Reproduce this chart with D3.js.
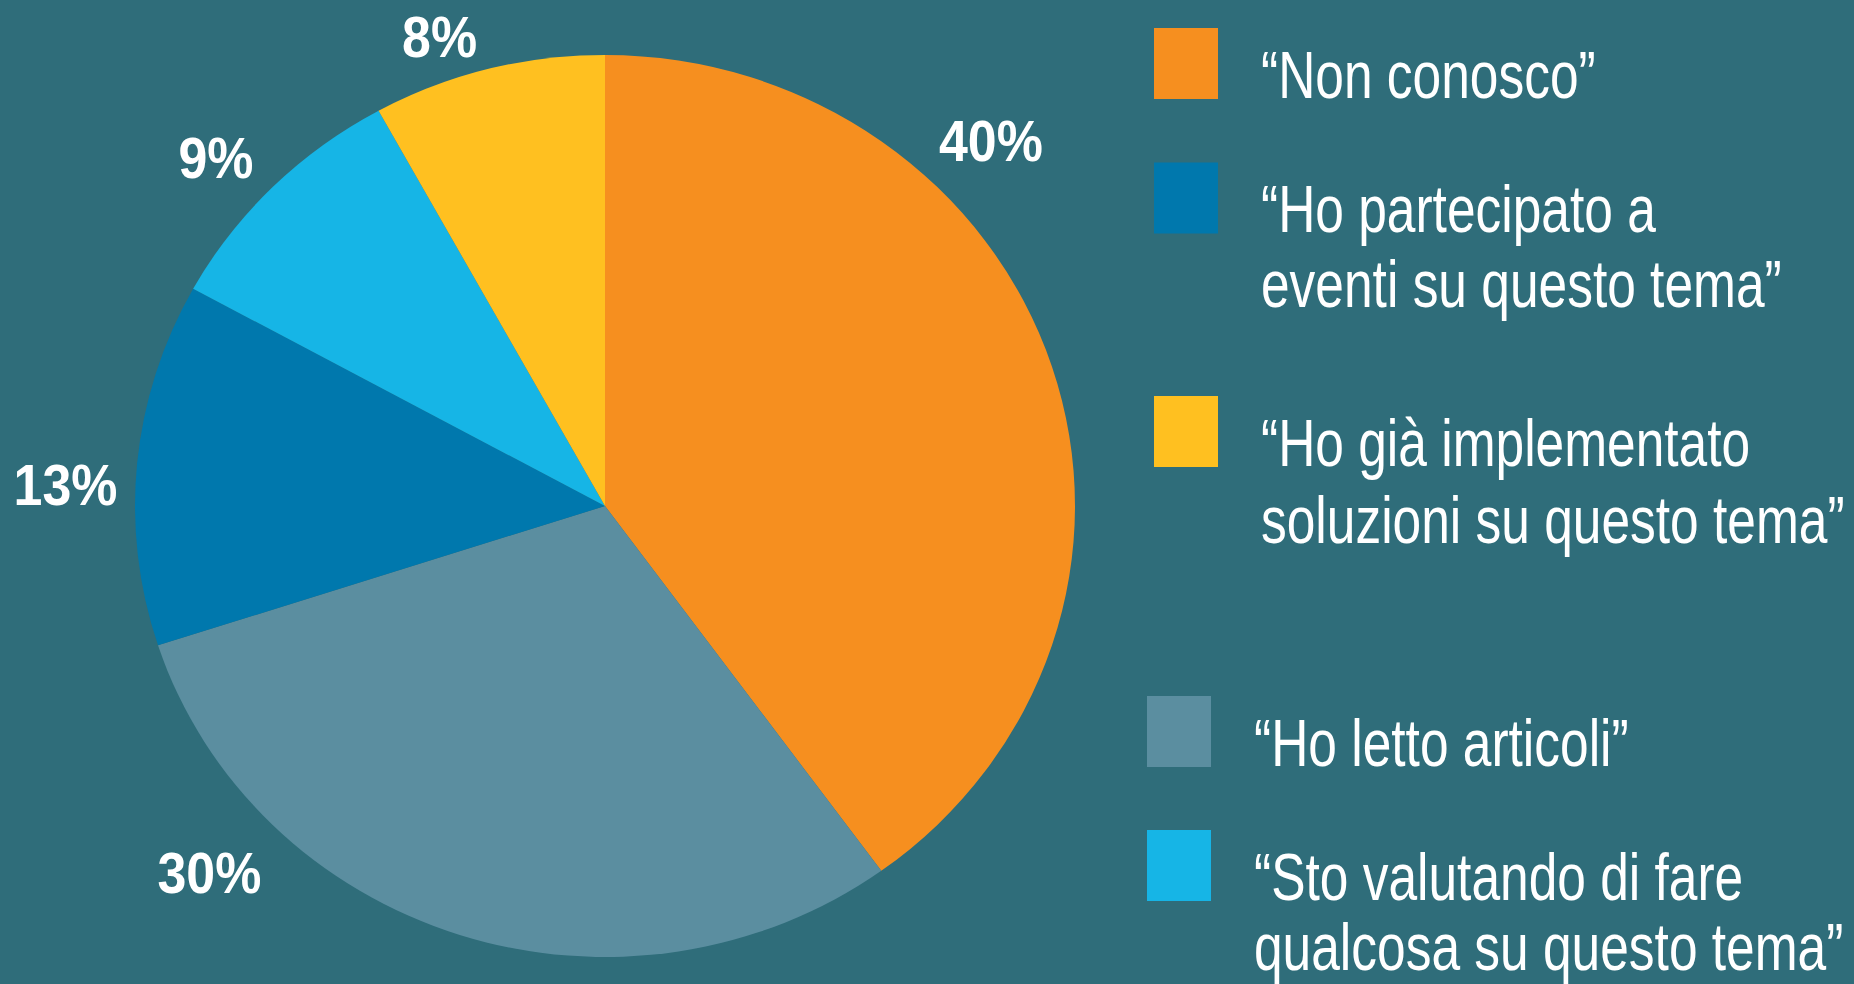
<!DOCTYPE html>
<html lang="it"><head><meta charset="utf-8">
<title>Pie</title>
<script src="https://cdn.jsdelivr.net/npm/d3@7/dist/d3.min.js"></script>
<style>
  html, body { margin: 0; padding: 0; background: #2f6d7a; overflow: hidden; }
  text { font-family: "Liberation Sans", Arial, sans-serif; fill: #ffffff; }
</style>
</head>
<body>
<script>
    // slices, clockwise from 12 o'clock
    var answers = ["Non conosco", "Ho letto articoli", "Ho partecipato a eventi su questo tema",
                   "Sto valutando di fare qualcosa su questo tema", "Ho già implementato soluzioni su questo tema"];
    var shares = [40, 30, 13, 9, 8];
    var sliceColors = ["#f68f1f", "#5b8ea0", "#0078ad", "#16b5e6", "#ffc020"];

    // legend, in the order it is printed (index into answers), broken into lines
    var legendOrder = [0, 2, 4, 1, 3];
    var legendLines = [
        ["“Non conosco”"],
        ["“Ho letto articoli”"],
        ["“Ho partecipato a", "eventi su questo tema”"],
        ["“Sto valutando di fare", "qualcosa su questo tema”"],
        ["“Ho già implementato", "soluzioni su questo tema”"]
    ];

    var width = 1854;
    var height = 984;
    var cx = 605, cy = 506;
    var radius = 451;
    var stretchX = 470 / 451;   // the source picture is slightly wider than tall

    var svg = d3.select("body").append("svg")
        .attr("width", width)
        .attr("height", height);

    svg.append("rect")
        .attr("width", width)
        .attr("height", height)
        .attr("fill", "#2f6d7a");

    var pie = d3.pie().sort(null).value(function (d) { return d; });
    var arcs = pie(shares);
    var arc = d3.arc().innerRadius(0).outerRadius(radius);

    var g = svg.append("g")
        .attr("transform", "translate(" + cx + "," + cy + ") scale(" + stretchX + ",1)");

    g.selectAll("path")
        .data(arcs)
        .enter().append("path")
        .attr("d", arc)
        .attr("fill", function (d, i) { return sliceColors[i]; });

    // percent labels sit outside the pie; hand nudged like the original layout
    var labelNudge = [-26.6, 28, -3, -2, -4.3];     // degrees
    var labelDist = [1.153, 1.17, 1.149, 1.132, 1.098];

    svg.selectAll(".pct")
        .data(arcs)
        .enter().append("text")
        .attr("class", "pct")
        .attr("text-anchor", "middle")
        .attr("dy", "0.36em")
        .attr("font-size", 57)
        .attr("font-weight", "bold")
        .attr("transform", function (d, i) {
            var a = (d.startAngle + d.endAngle) / 2 + labelNudge[i] * Math.PI / 180;
            var r = radius * labelDist[i];
            var x = cx + stretchX * r * Math.sin(a);
            var y = cy - r * Math.cos(a);
            return "translate(" + x + "," + y + ") scale(0.91,1)";
        })
        .text(function (d) { return d.data + "%"; });

    // legend
    var legendTop = [28, 162.5, 396, 696, 830];
    var legendLeft = [1154, 1154, 1154, 1147, 1147];
    var lineGap = [75, 75, 77, 75, 70];

    var legend = svg.selectAll(".legend")
        .data(legendOrder)
        .enter().append("g")
        .attr("class", "legend")
        .attr("transform", function (d, i) {
            return "translate(" + legendLeft[i] + "," + legendTop[i] + ")";
        });

    legend.append("rect")
        .attr("width", 64)
        .attr("height", 71)
        .attr("fill", function (d) { return sliceColors[d]; });

    legend.each(function (d, i) {
        var item = d3.select(this);
        legendLines[d].forEach(function (line, j) {
            item.append("text")
                .attr("font-size", 66)
                .attr("transform", "translate(107," + (69.5 + j * lineGap[i]) + ") scale(0.78,1)")
                .text(line);
        });
    });
</script>
</body></html>
